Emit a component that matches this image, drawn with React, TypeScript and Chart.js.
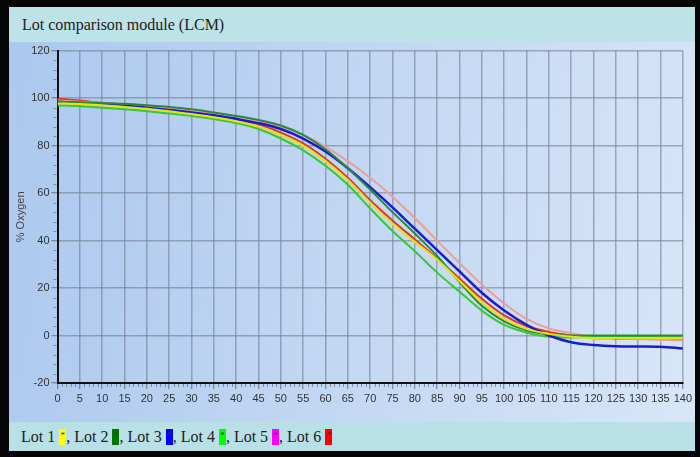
import React, { useEffect, useRef } from "react";
import { Chart, registerables } from "chart.js";

Chart.register(...registerables);

const xs = [0, 5, 10, 15, 20, 25, 30, 35, 40, 45, 50, 55, 60, 65, 70, 75, 80, 85, 90, 95, 100, 105, 110, 115, 120, 125, 130, 135, 140];

const lot1 = [97.8, 97.5, 97, 96.3, 95.5, 94.5, 93.3, 92, 90.3, 88, 84.5, 80, 73.5, 65.5, 56, 47, 39.5, 32, 23, 14, 7, 2.8, 0.7, -0.5, -1, -1, -1, -1, -1];
const lot2 = [98.5, 98.3, 98, 97.6, 97, 96.3, 95.3, 94, 92.5, 90.8, 88.5, 84.5, 78.5, 70.5, 61.5, 52, 43, 33.5, 22.5, 12.5, 6, 2.2, 0.5, 0, 0, 0, 0, 0, 0];
const lot3 = [98.5, 98, 97.5, 96.8, 96, 95, 94, 92.8, 91.3, 89.5, 87, 83, 77.5, 70.5, 62.5, 54, 45, 36, 27, 18, 10.5, 4.5, 0, -2.8, -4, -4.5, -4.6, -4.7, -5.5];
const lot4 = [97, 96.6, 96, 95.3, 94.5, 93.5, 92.5, 91.2, 89.5, 87, 83, 78, 71.5, 63.5, 53.5, 44, 35.5, 26.5, 18.5, 10.5, 4.5, 1.3, -0.5, -0.8, -0.5, -0.3, -0.2, -0.2, -0.2];
const lot5 = [99, 98.5, 98, 97.3, 96.6, 95.8, 94.8, 93.6, 92.3, 90.5, 88, 84.5, 79.5, 73.5, 66.5, 58.5, 49.5, 40, 30.5, 21.5, 13.5, 7, 3, 1, -0.5, -1, -1.5, -1.8, -2];
const lot6 = [99.8, 99, 98, 97.2, 96.2, 95, 93.8, 92.5, 91, 89, 85.5, 81, 74.5, 66.5, 57, 48.5, 40.5, 32.5, 24, 15.5, 8.5, 4, 1.5, 0, -1, -1.2, -1.3, -1.4, -1.4];

const lotNames = ["Lot 1", "Lot 2", "Lot 3", "Lot 4", "Lot 5", "Lot 6"];
const lineColors = ["#e4e410", "#2a8a3a", "#1c1ccc", "#36c836", "#ee9c9c", "#e03a1e"];
const legendColors = ["#ffff00", "#007800", "#0000ff", "#00ff00", "#ff00ff", "#ff0000"];
const series = [lot1, lot2, lot3, lot4, lot5, lot6];

const title = "Lot comparison module (LCM)";
const yTitle = "% Oxygen";

const minorTicks = {
  id: "minorTicks",
  afterDraw(chart: any) {
    const { ctx, chartArea, scales } = chart;
    ctx.save();
    ctx.strokeStyle = "rgba(100,110,130,0.7)";
    ctx.lineWidth = 1;
    for (let v = -20; v <= 120; v += 4) {
      if (v % 20 === 0) continue;
      const y = Math.round(scales.y.getPixelForValue(v)) + 0.5;
      ctx.beginPath();
      ctx.moveTo(chartArea.left - 4, y);
      ctx.lineTo(chartArea.left - 1, y);
      ctx.stroke();
    }
    for (let v = 0; v <= 140; v += 1) {
      if (v % 5 === 0) continue;
      const x = Math.round(scales.x.getPixelForValue(v)) + 0.5;
      ctx.beginPath();
      ctx.moveTo(x, chartArea.bottom + 1);
      ctx.lineTo(x, chartArea.bottom + 4);
      ctx.stroke();
    }
    ctx.restore();
  },
};

function LcmChart() {
  const ref = useRef<HTMLCanvasElement | null>(null);
  useEffect(() => {
    if (!ref.current) return;
    const chart = new Chart(ref.current, {
      type: "line",
      data: {
        datasets: series.map((s, i) => ({
          label: lotNames[i],
          data: xs.map((x, j) => ({ x, y: s[j] })),
          borderColor: lineColors[i],
          backgroundColor: lineColors[i],
          borderWidth: i === 2 ? 2.5 : 2,
          pointRadius: 0,
          tension: 0.4,
          cubicInterpolationMode: "monotone" as const,
          fill: false,
        })),
      },
      options: {
        animation: false,
        responsive: false,
        maintainAspectRatio: false,
        layout: { padding: { top: 8.7, right: 9.3, left: 0, bottom: 0 } },
        plugins: { legend: { display: false }, tooltip: { enabled: false }, title: { display: false } },
        scales: {
          x: {
            type: "linear",
            min: 0,
            max: 140,
            afterFit: (s: any) => { s.height = 39; },
            ticks: {
              stepSize: 5,
              autoSkip: false,
              maxRotation: 0,
              padding: 3,
              color: "#333",
              font: { family: "'Liberation Sans', Arial, sans-serif", size: 11 },
            },
            grid: {
              color: "rgba(115,125,145,0.6)",
              lineWidth: 1.5,
              tickLength: 6,
              tickColor: "rgba(80,90,110,0.8)",
              tickWidth: 1,
            },
            border: { color: "#111", width: 2 },
          },
          y: {
            min: -20,
            max: 120,
            afterFit: (s: any) => { s.width = 48.5; },
            ticks: {
              stepSize: 20,
              padding: 2,
              color: "#333",
              font: { family: "'Liberation Sans', Arial, sans-serif", size: 11 },
            },
            grid: {
              color: "rgba(115,125,145,0.6)",
              lineWidth: 1.5,
              tickLength: 6,
              tickColor: "rgba(80,90,110,0.8)",
              tickWidth: 1,
            },
            border: { color: "#111", width: 2 },
            title: {
              display: true,
              text: yTitle,
              color: "#444",
              padding: { top: 5, bottom: 0 },
              font: { family: "'Liberation Sans', Arial, sans-serif", size: 11 },
            },
          },
        },
      },
      plugins: [minorTicks],
    } as any);
    return () => chart.destroy();
  }, []);
  return <canvas ref={ref} width={686} height={380} style={{ display: "block", width: 686, height: 380 }} />;
}

export default function App() {
  return (
    <div style={{ position: "absolute", left: 0, top: 0, width: 700, height: 457, background: "#050505", overflow: "hidden" }}>
      <div style={{ position: "absolute", left: 9, top: 7, width: 686, height: 444, background: "#bde2e8", boxShadow: "inset 0 0 0 1px #9fb0b8" }}>
        <div style={{ position: "absolute", left: 0, top: 0, width: 686, height: 35, background: "#bde2e8" }}>
          <div style={{ position: "absolute", left: 13, top: 0, height: 35, lineHeight: "35px", fontFamily: "'Liberation Serif', 'Times New Roman', serif", fontSize: 16, color: "#222", whiteSpace: "nowrap" }}>
            {title}
          </div>
        </div>
        <div style={{ position: "absolute", left: 0, top: 35, width: 686, height: 380, background: "linear-gradient(100deg, #abc8ee 0%, #c2d7f3 50%, #d8e6f8 100%)" }}>
          <LcmChart />
        </div>
        <div style={{ position: "absolute", left: 0, top: 415, width: 686, height: 29, background: "#b9e0e6" }}>
          <div style={{ position: "absolute", left: 12, top: 0, height: 29, lineHeight: "29px", fontFamily: "'Liberation Serif', 'Times New Roman', serif", fontSize: 16, color: "#222", whiteSpace: "nowrap" }}>
            {lotNames.map((n, i) => (
              <span key={n}>
                {i > 0 ? ", " : ""}
                {n + " "}
                <span style={{ display: "inline-block", width: 7, height: 16, verticalAlign: "-3px", background: legendColors[i], color: "#333", fontSize: 9, lineHeight: "12px", textAlign: "center", overflow: "hidden" }}>*</span>
              </span>
            ))}
          </div>
        </div>
      </div>
    </div>
  );
}
